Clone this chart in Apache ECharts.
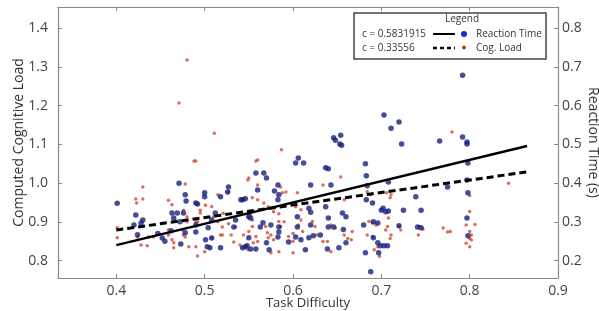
<!DOCTYPE html>
<html>
<head>
<meta charset="utf-8">
<script src="https://cdn.jsdelivr.net/npm/echarts@6/dist/echarts.min.js"></script>
<style>
  html, body { margin: 0; padding: 0; background: #fff; }
  #chart { width: 599px; height: 311px; }
</style>
</head>
<body>
<div id="chart"></div>
<script>
// tick labels
const xTicks = [0.4, 0.5, 0.6, 0.7, 0.8, 0.9]
const loadTicks = [0.8, 0.9, 1.0, 1.1, 1.2, 1.3, 1.4]
const rtTicks = [0.2, 0.3, 0.4, 0.5, 0.6, 0.7, 0.8]

// reaction time points [task difficulty, seconds] (right axis)
const reactionTime = [
    [0.401, 0.348], [0.471, 0.40], [0.478, 0.37], [0.479, 0.354], [0.49, 0.349], [0.492, 0.346],
    [0.50, 0.375], [0.50, 0.365], [0.518, 0.365], [0.527, 0.39], [0.526, 0.377], [0.543, 0.357],
    [0.546, 0.36], [0.422, 0.318], [0.43, 0.305], [0.428, 0.297], [0.42, 0.292], [0.424, 0.267],
    [0.463, 0.323], [0.469, 0.323], [0.476, 0.323], [0.465, 0.31], [0.472, 0.30], [0.462, 0.277],
    [0.478, 0.272], [0.49, 0.274], [0.49, 0.292], [0.504, 0.285], [0.501, 0.254], [0.503, 0.236],
    [0.508, 0.258], [0.518, 0.233], [0.543, 0.233], [0.546, 0.236], [0.512, 0.323], [0.508, 0.305],
    [0.535, 0.305], [0.447, 0.27], [0.452, 0.258], [0.455, 0.25], [0.473, 0.243], [0.506, 0.233],
    [0.541, 0.357], [0.533, 0.287],
    [0.558, 0.426], [0.567, 0.426], [0.57, 0.413], [0.56, 0.382], [0.583, 0.395], [0.579, 0.38],
    [0.584, 0.37], [0.612, 0.452], [0.606, 0.465], [0.637, 0.44], [0.64, 0.437], [0.682, 0.45],
    [0.683, 0.419], [0.62, 0.395], [0.643, 0.395], [0.684, 0.393], [0.69, 0.349], [0.683, 0.357],
    [0.583, 0.357], [0.55, 0.313], [0.552, 0.31], [0.566, 0.298], [0.563, 0.287], [0.575, 0.292],
    [0.584, 0.287], [0.584, 0.274], [0.55, 0.259], [0.548, 0.238], [0.552, 0.23], [0.558, 0.23],
    [0.57, 0.246], [0.573, 0.228], [0.583, 0.261], [0.595, 0.248], [0.603, 0.261], [0.609, 0.254],
    [0.605, 0.313], [0.605, 0.287], [0.618, 0.259], [0.614, 0.228], [0.631, 0.266], [0.64, 0.31],
    [0.64, 0.287], [0.652, 0.233], [0.656, 0.323], [0.66, 0.313], [0.66, 0.246], [0.68, 0.292],
    [0.682, 0.22], [0.688, 0.171], [0.691, 0.30], [0.696, 0.297], [0.691, 0.259], [0.696, 0.246],
    [0.699, 0.238], [0.703, 0.238], [0.697, 0.22], [0.70, 0.33], [0.705, 0.326], [0.702, 0.335],
    [0.708, 0.328], [0.708, 0.403], [0.739, 0.365], [0.745, 0.33], [0.725, 0.33], [0.775, 0.39],
    [0.798, 0.452], [0.797, 0.408], [0.798, 0.375], [0.797, 0.31], [0.798, 0.264], [0.741, 0.287],
    [0.745, 0.285], [0.72, 0.29], [0.637, 0.339], [0.618, 0.335], [0.62, 0.325], [0.639, 0.23],
    [0.623, 0.264], [0.62, 0.292], [0.646, 0.287], [0.657, 0.28], [0.707, 0.238],
    [0.792, 0.679], [0.646, 0.517], [0.648, 0.511], [0.654, 0.524], [0.653, 0.501], [0.655, 0.498],
    [0.703, 0.576], [0.711, 0.542], [0.72, 0.558], [0.723, 0.501], [0.766, 0.509], [0.792, 0.519],
    [0.797, 0.506], [0.797, 0.501], [0.603, 0.452]
]

// computed cognitive load points [task difficulty, load] (left axis)
const cogLoad = [
    [0.43, 0.99], [0.422, 0.959], [0.423, 0.949], [0.43, 0.959], [0.401, 0.885], [0.401, 0.859],
    [0.428, 0.84], [0.435, 0.838], [0.442, 0.861], [0.459, 0.956], [0.463, 0.944], [0.478, 0.998],
    [0.465, 0.846], [0.465, 0.833], [0.478, 0.861], [0.482, 0.836], [0.492, 0.812], [0.49, 0.836],
    [0.50, 0.823], [0.501, 0.943], [0.508, 0.94], [0.508, 0.858], [0.515, 0.97], [0.527, 0.977],
    [0.527, 0.895], [0.535, 0.887], [0.518, 0.866], [0.53, 0.866], [0.521, 0.922], [0.55, 1.013],
    [0.49, 1.057], [0.476, 0.93], [0.495, 0.93], [0.49, 0.90], [0.424, 0.861], [0.436, 0.861],
    [0.459, 0.879], [0.459, 0.866], [0.463, 0.854], [0.475, 0.879], [0.476, 0.866], [0.48, 0.913],
    [0.48, 0.90], [0.495, 0.923], [0.492, 0.90], [0.51, 0.913], [0.515, 0.90], [0.52, 0.887],
    [0.52, 0.866], [0.533, 0.848], [0.54, 0.84], [0.549, 1.008], [0.554, 0.962], [0.56, 0.957],
    [0.549, 0.913], [0.544, 0.866], [0.555, 0.846], [0.549, 0.828], [0.56, 1.06], [0.571, 0.872],
    [0.572, 0.859], [0.586, 0.99], [0.592, 0.977], [0.59, 0.90], [0.60, 0.87], [0.60, 0.85],
    [0.60, 0.82], [0.605, 0.975],
    [0.56, 0.995], [0.588, 0.975], [0.634, 0.995], [0.654, 1.016], [0.567, 0.949], [0.572, 0.939],
    [0.578, 0.926], [0.584, 0.921], [0.603, 0.939], [0.609, 0.931], [0.552, 0.918], [0.554, 0.905],
    [0.554, 0.888], [0.55, 0.875], [0.558, 0.862], [0.56, 0.849], [0.569, 0.888], [0.575, 0.866],
    [0.578, 0.854], [0.584, 0.901], [0.586, 0.888], [0.595, 0.862], [0.606, 0.892], [0.609, 0.905],
    [0.611, 0.875], [0.622, 0.901], [0.625, 0.888], [0.627, 0.866], [0.634, 0.849], [0.639, 0.849],
    [0.643, 0.892], [0.648, 0.884], [0.658, 0.866], [0.662, 0.857], [0.666, 0.854], [0.643, 0.823],
    [0.575, 0.82], [0.584, 0.823], [0.667, 0.875], [0.686, 0.901], [0.69, 0.897], [0.694, 0.892],
    [0.684, 0.866], [0.69, 0.862], [0.696, 0.836], [0.698, 0.811], [0.692, 0.828], [0.705, 0.879],
    [0.684, 0.978], [0.688, 0.97], [0.658, 0.957], [0.706, 0.975], [0.71, 0.962],
    [0.711, 0.97], [0.708, 0.91], [0.707, 0.888], [0.711, 0.866], [0.71, 0.857], [0.72, 0.888],
    [0.722, 0.879], [0.743, 0.888], [0.747, 0.881], [0.742, 0.866], [0.77, 0.884], [0.778, 0.875],
    [0.775, 0.874], [0.796, 0.892], [0.80, 0.875], [0.802, 0.866], [0.80, 0.857], [0.802, 0.853],
    [0.796, 0.845], [0.80, 0.836], [0.806, 0.893], [0.80, 0.927], [0.80, 0.968], [0.844, 1.0],
    [0.78, 1.132], [0.587, 1.086], [0.558, 1.057], [0.48, 1.318], [0.471, 1.207], [0.511, 1.129],
    [0.488, 1.057]
]

// fitted lines, two end points each
const rtFit = [[0.4, 0.24], [0.865, 0.496]]
const loadFit = [[0.4, 0.879], [0.865, 1.029]]

const FONT = 'Open Sans'
const chart = echarts.init(document.getElementById('chart'))

const frame = { lineStyle: { color: '#8a8a8a', width: 1.2 } }
const tick1 = v => v.toFixed(1)

const option = {
    animation: false,
    backgroundColor: '#fff',
    grid: { left: 58, right: 41, top: 7, bottom: 33, outerBoundsMode: 'none', containLabel: false },
    xAxis: [
        {
            type: 'value', min: 0.334, max: 0.9,
            axisLine: frame,
            axisTick: { inside: true, length: 4, customValues: xTicks, lineStyle: { color: '#8a8a8a' } },
            axisLabel: { customValues: xTicks, formatter: tick1, color: '#444', fontSize: 14, fontFamily: FONT, margin: 6 },
            splitLine: { show: false },
            name: 'Task Difficulty', nameLocation: 'middle', nameGap: 19, nameMoveOverlap: false,
            nameTextStyle: { color: '#333', fontSize: 13, fontFamily: FONT }
        },
        {
            type: 'value', position: 'top', min: 0.334, max: 0.9,
            axisLine: frame,
            axisTick: { inside: true, length: 4, customValues: xTicks, lineStyle: { color: '#8a8a8a' } },
            axisLabel: { show: false },
            splitLine: { show: false }
        }
    ],
    yAxis: [
        {
            type: 'value', min: 0.755, max: 1.455,
            axisLine: { show: true, ...frame },
            axisTick: { show: true, inside: true, length: 4, customValues: loadTicks, lineStyle: { color: '#8a8a8a' } },
            axisLabel: { customValues: loadTicks, formatter: tick1, color: '#444', fontSize: 14, fontFamily: FONT, margin: 10 },
            splitLine: { show: false },
            name: 'Computed Cognitive Load', nameLocation: 'middle', nameGap: 32, nameMoveOverlap: false,
            nameTextStyle: { color: '#333', fontSize: 14, fontFamily: FONT }
        },
        {
            type: 'value', position: 'right', min: 0.155, max: 0.855,
            axisLine: { show: true, ...frame },
            axisTick: { show: true, inside: true, length: 4, customValues: rtTicks, lineStyle: { color: '#8a8a8a' } },
            axisLabel: { customValues: rtTicks, formatter: tick1, color: '#444', fontSize: 14, fontFamily: FONT, margin: 4 },
            splitLine: { show: false },
            name: 'Reaction Time (s)', nameLocation: 'middle', nameGap: 28, nameRotate: -90, nameMoveOverlap: false,
            nameTextStyle: { color: '#333', fontSize: 14, fontFamily: FONT }
        }
    ],
    series: [
        {
            name: 'Cog. Load', type: 'scatter', yAxisIndex: 0, data: cogLoad,
            symbolSize: 3.5, itemStyle: { color: '#d24a36' }
        },
        {
            name: 'Reaction Time', type: 'scatter', yAxisIndex: 1, data: reactionTime,
            symbolSize: 5.5, itemStyle: { color: '#16217f' }
        },
        {
            type: 'line', yAxisIndex: 1, data: rtFit, symbol: 'none', z: 5,
            lineStyle: { color: '#000', width: 2.5 }
        },
        {
            type: 'line', yAxisIndex: 0, data: loadFit, symbol: 'none', z: 5,
            lineStyle: { color: '#000', width: 3, type: [7, 4] }
        }
    ],
    // legend box drawn by hand, the layout with the c values is not a stock legend
    graphic: [
        { type: 'rect', shape: { x: 354, y: 13, width: 192, height: 46 },
          style: { fill: '#fff', stroke: '#444', lineWidth: 1.5 }, z: 10 },
        { type: 'text', x: 462, y: 19, z: 11,
          style: { text: 'Legend', font: '10px "Open Sans"', fill: '#333', align: 'center', verticalAlign: 'middle' } },
        { type: 'text', x: 362, y: 34, z: 11,
          style: { text: 'c = 0.5831915', font: '10px "Open Sans"', fill: '#333', verticalAlign: 'middle' } },
        { type: 'text', x: 362, y: 48, z: 11,
          style: { text: 'c = 0.33556', font: '10px "Open Sans"', fill: '#333', verticalAlign: 'middle' } },
        { type: 'line', shape: { x1: 433, y1: 34, x2: 455, y2: 34 }, z: 11,
          style: { stroke: '#000', lineWidth: 2 } },
        { type: 'line', shape: { x1: 433, y1: 48, x2: 455, y2: 48 }, z: 11,
          style: { stroke: '#000', lineWidth: 2.5, lineDash: [4, 3] } },
        { type: 'circle', shape: { cx: 464, cy: 34, r: 3 }, z: 11, style: { fill: '#1d2ad0' } },
        { type: 'circle', shape: { cx: 464, cy: 47.5, r: 2 }, z: 11, style: { fill: '#cc2a2a' } },
        { type: 'text', x: 476, y: 34, z: 11,
          style: { text: 'Reaction Time', font: '10px "Open Sans"', fill: '#333', verticalAlign: 'middle' } },
        { type: 'text', x: 476, y: 48, z: 11,
          style: { text: 'Cog. Load', font: '10px "Open Sans"', fill: '#333', verticalAlign: 'middle' } }
    ]
}

chart.setOption(option)
</script>
</body>
</html>
